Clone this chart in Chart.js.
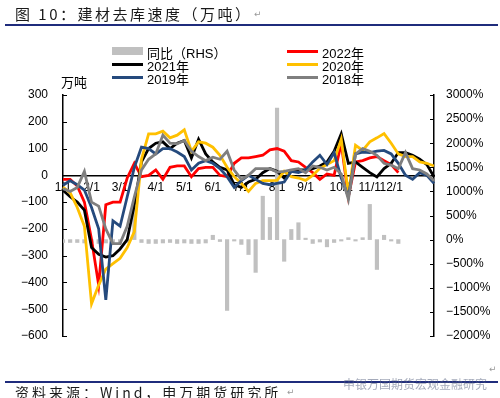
<!DOCTYPE html>
<html>
<head>
<meta charset="utf-8">
<script src="https://cdn.jsdelivr.net/npm/chart.js@4/dist/chart.umd.min.js"></script>
<style>
  body { margin: 0; background: #fff; }
  #wrap { position: relative; width: 500px; height: 398px; overflow: hidden; font-family: "Liberation Sans", Arial, sans-serif; }
  #chart { position: absolute; left: 0; top: 0; }
  .title { position: absolute; left: 15px; top: 3px; font: 15px "Noto Sans CJK SC", sans-serif; letter-spacing: 2.5px; color: #1a1a1a; white-space: nowrap; }
  .rule { position: absolute; left: 5px; width: 493px; height: 2px; background: #1f2c7c; }
  .unit { position: absolute; left: 61px; top: 72px; font: 13px "Noto Sans CJK SC", sans-serif; color: #000; }
  .foot { position: absolute; left: 15px; top: 382px; font: 14px "Noto Sans CJK SC", sans-serif; letter-spacing: 3px; color: #1a1a1a; white-space: nowrap; }
  .mark { position: absolute; left: 343px; top: 375px; font: 12px "Noto Sans CJK SC", sans-serif; color: rgba(90,100,130,0.55); white-space: nowrap; }
  .ret { position: absolute; font: 9px "DejaVu Sans", sans-serif; color: #999; }
  .lg { position: absolute; font: 13px "Liberation Sans", Arial, sans-serif; color: #000; white-space: nowrap; }
  .lg span { font-family: "Liberation Sans", "Noto Sans CJK SC", sans-serif; }
  .sw { position: absolute; width: 31px; }
</style>
</head>
<body>
<div id="wrap">
  <canvas id="chart" width="500" height="398"></canvas>
  <div class="title">图 10：建材去库速度（万吨）</div>
  <div class="ret" style="left:254px;top:9px">↵</div>
  <div class="rule" style="top:24px"></div>
  <div class="unit">万吨</div>
  <div id="legend"></div>
  <div class="rule" style="top:381px"></div>
  <div class="mark">申银万国期货宏观金融研究</div>
  <div class="foot">资料来源：Wind，申万期货研究所</div>
  <div class="ret" style="left:287px;top:387px">↵</div>
  <div class="ret" style="left:489px;top:364px">↵</div>
</div>
<script>
// month labels and the week they sit on
const monthLabels = ["1/1", "2/1", "3/1", "4/1", "5/1", "6/1", "7/1", "8/1", "9/1", "10/1", "11/1", "12/1"];
const monthWeek = [0, 4, 8, 13, 17, 21, 25, 30, 34, 39, 43, 46];
const weekCount = 53;

// 同比 (RHS, %)
const yoy = [-60, -60, -60, -70, -60, -80, -70, -60, -80, -60,
             690, -60, -80, -80, -70, -60, -80, -70, -80, -80,
             -70, 90, -40, -1470, -30, -100, -310, -680, 900, 460,
             2730, -450, 210, 350, 30, -80, -50, -150, -60, -30,
             40, -30, 40, 730, -620, 90, -30, -80];

const y2022 = [-15, -15, -40, -100, -240, -410, -110, -100, -100, -10,
               45, -5, 0, 20, -15, 30, 35, 35, -5, 25,
               30, 30, 0, -5, 45, 65, 65, 70, 75, 95,
               100, 90, 55, 50, 30, 10, -15, 5, 0, 120,
               -80, 50, 55, 65, 70, 55, 40, 10];

const y2021 = [-56, -80, -100, -130, -270, -295, -305, -300, -275, -240,
               -110, 50, 100, 120, 125, 100, 120, 130, 65, 135,
               80, 50, 30, 20, -35, -45, -25, -15, 10, 25,
               15, -10, 15, 20, 20, 25, 35, 50, 90, 155,
               45, 50, 30, 10, -6, 25, 45, 85, 85, 75,
               60, 40, -5];

const y2020 = [-44, -65, -120, -190, -480, -410, -350, -330, -310, -270,
               -210, 60, 155, 155, 165, 140, 150, 170, 90, 125,
               120, 105, 75, 30, -5, -30, -60, -30, -20, -20,
               -19, 15, -5, -10, -19, 0, 26, 40, 55, 135,
               -70, 112, 93, 125, 140, 156, 120, 80, 70, 70,
               50, 45, 35];

const y2019 = [-37, -20, -35, -55, -120, -200, -465, -170, -190, -80,
               30, 105, 100, 80, 100, 100, 87, 70, 20, 45,
               55, 45, 25, -5, -45, -20, 0, -15, -30, -35,
               -30, -25, 15, 10, 20, 50, 75, 40, 85, -10,
               -80, 80, 87, 85, 90, 93, 80, 45, 0, -15,
               10, 0, -30];

const y2018 = [-50, -60, -45, 15, -100, -115, -200, -255, -255, -190,
               -80, 20, 60, 80, 150, 120, 118, 130, 90, 70,
               55, 68, 60, 90, 20, -15, 0, 25, 25, 25,
               12, 15, 20, 25, 10, 35, 30, 20, 30, 5,
               -90, 80, 100, 90, 75, 45, 38, 25, 85, 25,
               20, 5, -20];

const leftTicks = { min: -600, max: 300, step: 100 };
const rightTicks = { min: -2000, max: 3000, step: 500 };

const weekLabels = Array(weekCount).fill("");
monthWeek.forEach((w, i) => { weekLabels[w] = monthLabels[i]; });

const fmtNum = (v) => (v < 0 ? "\u2212" + Math.abs(v) : String(v));

const lineSet = (label, data, color, order) => ({
    type: "line",
    label,
    data,
    borderColor: color,
    backgroundColor: color,
    borderWidth: 2.8,
    pointRadius: 0,
    tension: 0,
    yAxisID: "y",
    order,
});

const datasets = [
    {
        type: "bar",
        label: "同比（RHS）",
        data: yoy,
        backgroundColor: "#c0c0c0",
        barThickness: 3.5,
        yAxisID: "y2",
        order: 10,
    },
    lineSet("2022年", y2022, "#ff0000", 5),
    lineSet("2021年", y2021, "#000000", 4),
    lineSet("2020年", y2020, "#ffc000", 3),
    lineSet("2019年", y2019, "#254a7d", 2),
    lineSet("2018年", y2018, "#7f7f7f", 1),
];

// legend: two columns, row-major
const legendEl = document.getElementById("legend");
const legendCols = [112, 287];
const legendRows = [51, 64, 77];
datasets.forEach((ds, i) => {
    const x = legendCols[i % 2];
    const y = legendRows[Math.floor(i / 2)];
    const sw = document.createElement("div");
    sw.className = "sw";
    sw.style.left = x + "px";
    sw.style.background = ds.type === "bar" ? ds.backgroundColor : ds.borderColor;
    sw.style.height = ds.type === "bar" ? "8px" : "3px";
    sw.style.top = (ds.type === "bar" ? y - 4 : y - 1.5) + "px";
    legendEl.appendChild(sw);
    const tx = document.createElement("div");
    tx.className = "lg";
    tx.style.left = (x + 35) + "px";
    tx.style.top = (y - 8) + "px";
    tx.innerHTML = "<span>" + ds.label + "</span>";
    legendEl.appendChild(tx);
});

// inward tick marks on both value axes
const innerTicks = {
    id: "innerTicks",
    afterDraw(chart) {
        const ctx = chart.ctx;
        ctx.save();
        ctx.strokeStyle = "#000";
        ctx.lineWidth = 1;
        const yl = chart.scales.y;
        const yr = chart.scales.y2;
        yl.ticks.forEach((t) => {
            const p = Math.round(yl.getPixelForValue(t.value)) + 0.5;
            ctx.beginPath();
            ctx.moveTo(chart.chartArea.left, p);
            ctx.lineTo(chart.chartArea.left + 4, p);
            ctx.stroke();
        });
        yr.ticks.forEach((t) => {
            const p = Math.round(yr.getPixelForValue(t.value)) + 0.5;
            ctx.beginPath();
            ctx.moveTo(chart.chartArea.right - 4, p);
            ctx.lineTo(chart.chartArea.right, p);
            ctx.stroke();
        });
        ctx.restore();
    },
};

const tickFont = { family: "'Liberation Sans', Arial, sans-serif", size: 12 };

new Chart(document.getElementById("chart").getContext("2d"), {
    data: { labels: weekLabels, datasets },
    options: {
        responsive: false,
        animation: false,
        layout: { padding: { top: 95, bottom: 62, left: 0, right: 0 } },
        plugins: { legend: { display: false }, tooltip: { enabled: false } },
        scales: {
            x: {
                type: "category",
                position: { y: 0 },
                offset: false,
                grid: { display: false, drawTicks: false },
                border: { color: "#000", width: 1.5 },
                ticks: {
                    autoSkip: false,
                    maxRotation: 0,
                    padding: 5,
                    color: "#000",
                    font: tickFont,
                },
            },
            y: {
                position: "left",
                min: leftTicks.min,
                max: leftTicks.max,
                grid: { display: false, drawTicks: false },
                border: { color: "#000", width: 1.5 },
                ticks: {
                    stepSize: leftTicks.step,
                    padding: 15,
                    color: "#000",
                    font: tickFont,
                    callback: (v) => fmtNum(v),
                },
                afterFit: (s) => { s.width = 63; },
            },
            y2: {
                position: "right",
                min: rightTicks.min,
                max: rightTicks.max,
                grid: { display: false, drawTicks: false },
                border: { color: "#000", width: 1.5 },
                ticks: {
                    stepSize: rightTicks.step,
                    padding: 12,
                    color: "#000",
                    font: tickFont,
                    callback: (v) => fmtNum(v) + "%",
                },
                afterFit: (s) => { s.width = 66; },
            },
        },
    },
    plugins: [innerTicks],
});
</script>
</body>
</html>
